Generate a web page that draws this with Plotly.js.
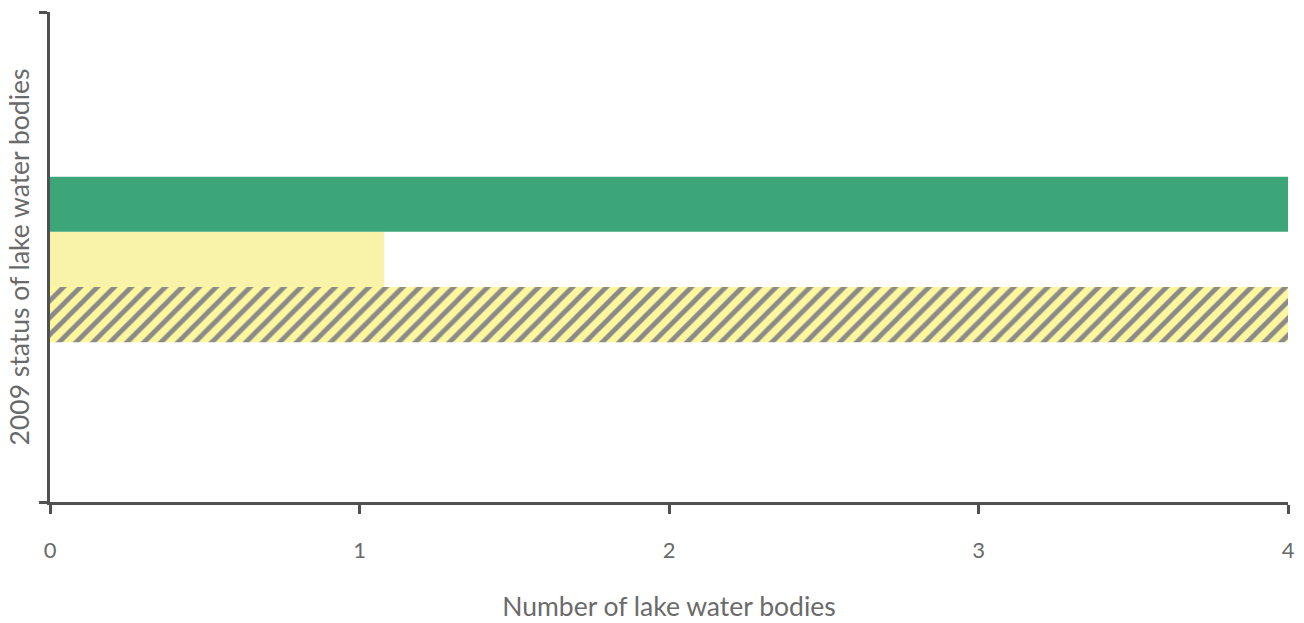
<!DOCTYPE html>
<html>
<head>
<meta charset="utf-8">
<script src="https://cdn.plot.ly/plotly-3.0.1.min.js"></script>
<style>html,body{margin:0;padding:0;background:#fff;}#chart{width:1304px;height:623px;}</style>
</head>
<body>
<div id="chart"></div>
<script>
// Data
const seriesNames = ["Hatched", "Yellow", "Green"];
const seriesValues = [4, 1.08, 4];
const categoryPos = [0];
const xTickVals = [0, 1, 2, 3, 4];
const xTickText = ["0", "1", "2", "3", "4"];

const traces = [
  {
    type: "bar", orientation: "h", name: seriesNames[0],
    x: [seriesValues[0]], y: categoryPos,
    marker: {color: "#fff79e", line: {width: 0},
      pattern: {shape: "/", fgcolor: "#8a8a8a", bgcolor: "#fff79e", size: 12, solidity: 0.4, fillmode: "replace"}},
    hoverinfo: "skip"
  },
  {
    type: "bar", orientation: "h", name: seriesNames[1],
    x: [seriesValues[1]], y: categoryPos,
    marker: {color: "#f9f3a9", line: {width: 0}},
    hoverinfo: "skip"
  },
  {
    type: "bar", orientation: "h", name: seriesNames[2],
    x: [seriesValues[2]], y: categoryPos,
    marker: {color: "#3da679", line: {width: 0}},
    hoverinfo: "skip"
  }
];

const layout = {
  width: 1304, height: 623,
  margin: {l: 50, r: 16, t: 12, b: 121, pad: 0},
  paper_bgcolor: "#ffffff", plot_bgcolor: "#ffffff",
  showlegend: false,
  barmode: "group",
  bargap: 0.662, bargroupgap: 0,
  font: {family: "Lato, sans-serif", color: "#666666"},
  xaxis: {
    range: [0, 4], tickvals: xTickVals, ticktext: xTickText,
    showgrid: false, zeroline: false,
    showline: true, linecolor: "#505050", linewidth: 3,
    ticks: "outside", ticklen: 9, tickwidth: 3, tickcolor: "#505050",
    ticklabelstandoff: 18,
    tickfont: {size: 22, color: "#6a6a6a"},
    title: {text: "Number of lake water bodies", font: {size: 26.5, color: "#6a6a6a"}, standoff: 36}
  },
  yaxis: {
    range: [-0.495, 0.505], tickvals: [-0.495, 0.505], ticktext: ["", ""],
    showgrid: false, zeroline: false,
    showline: true, linecolor: "#505050", linewidth: 3,
    ticks: "outside", ticklen: 8, tickwidth: 3, tickcolor: "#505050",
    title: {text: "2009 status of lake water bodies", font: {size: 26.5, color: "#6a6a6a"}, standoff: 0}
  }
};

Plotly.newPlot("chart", traces, layout, {displayModeBar: false, staticPlot: true});
</script>
</body>
</html>
